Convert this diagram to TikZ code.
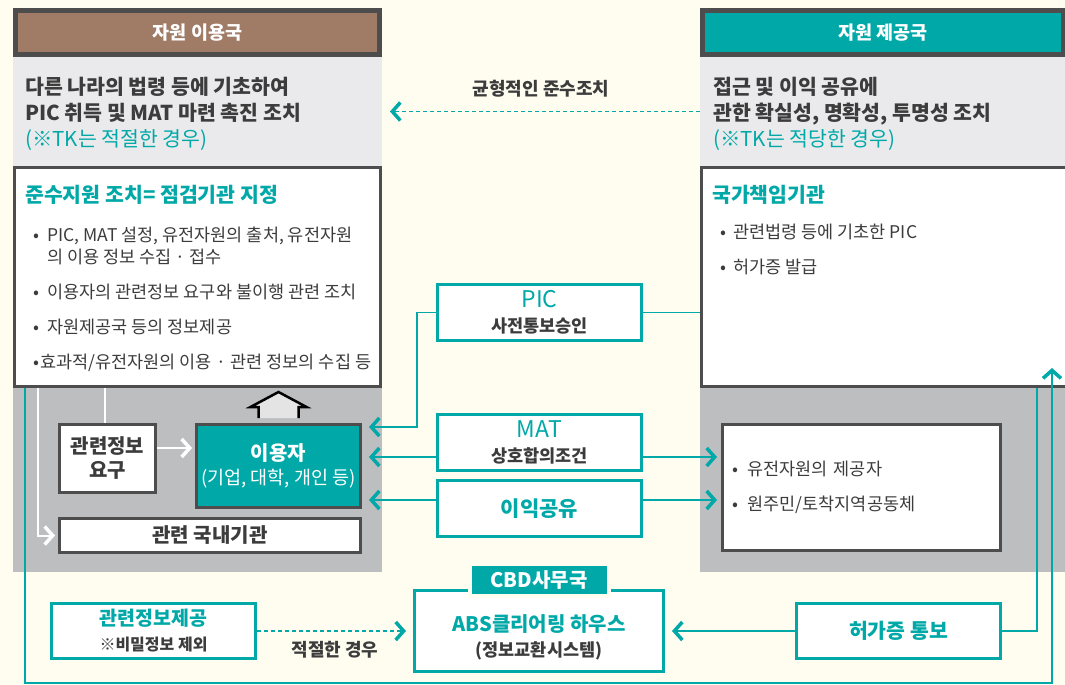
\documentclass[tikz,border=0pt]{standalone}
\usepackage{fontspec}
\setmainfont{Noto Sans CJK KR}
\definecolor{AbsCream}{HTML}{FFFCF0}
\definecolor{AbsBrown}{HTML}{A07B66}
\definecolor{AbsTeal}{HTML}{00A9A8}
\definecolor{AbsFrame}{HTML}{4D4D4D}
\definecolor{AbsLight}{HTML}{EAEAEC}
\definecolor{AbsGray}{HTML}{BDBEC0}
\definecolor{AbsText}{HTML}{3C3C3C}
\definecolor{AbsRoof}{HTML}{E4E4E5}
\usetikzlibrary{arrows.meta,positioning,calc}
\tikzset{
    chev/.tip={Straight Barb[length=8pt,width=18pt,line width=3.5pt]},
    % Background areas
    area light/.style={
        rectangle,
        fill=AbsLight,
        inner sep=0pt,
        outer sep=0pt
    },
    area dark/.style={
        area light,
        fill=AbsGray
    },
    % Country headers
    country/.style={
        rectangle,
        draw=AbsFrame,
        line width=5pt,
        minimum height=44pt,
        inner sep=0pt,
        text=white,
        font=\fontsize{18.5}{20}\selectfont\bfseries
    },
    panel/.style={
        rectangle,
        draw=AbsFrame,
        line width=3pt,
        fill=white,
        minimum height=219pt,
        inner sep=0pt
    },
    plain box/.style={
        rectangle,
        draw=AbsFrame,
        line width=3pt,
        fill=white,
        text=AbsText,
        inner sep=0pt,
        align=center,
        font=\fontsize{20}{24}\selectfont\bfseries
    },
    user box/.style={
        plain box,
        fill=AbsTeal,
        text=white
    },
    teal box/.style={
        plain box,
        draw=AbsTeal,
        minimum width=204pt,
        font=\fontsize{17.5}{25}\selectfont\bfseries
    },
    cbd tab/.style={
        rectangle,
        draw=AbsCream,
        line width=4pt,
        fill=AbsTeal,
        minimum width=139pt,
        minimum height=32pt,
        inner sep=0pt,
        text=white,
        font=\fontsize{20}{22}\selectfont\bfseries
    },
    note/.style={
        align=left,
        inner sep=0pt,
        text=AbsText,
        font=\fontsize{20.5}{26}\selectfont\bfseries
    },
    heading/.style={
        inner sep=0pt,
        anchor=west,
        text=AbsTeal,
        font=\fontsize{20.5}{22}\selectfont\bfseries
    },
    bullets/.style={
        align=left,
        inner sep=0pt,
        anchor=north west,
        text=AbsText,
        font=\fontsize{17.5}{22}\selectfont
    },
    caption/.style={
        inner sep=0pt,
        text=AbsText,
        font=\fontsize{18}{20}\selectfont\bfseries
    },
    link/.style={
        draw=AbsTeal,
        line width=1.6pt
    },
    link arrow/.style={
        link,
        -chev
    },
    link dashed/.style={
        link arrow,
        dash pattern=on 4pt off 3pt
    },
    pale link/.style={
        draw=white,
        line width=2pt
    },
    pale arrow/.style={
        pale link,
        -chev
    }
}
\newcommand{\absbullet}[1]{\makebox[#1][l]{•}}

\begin{document}
\begin{tikzpicture}[x=1pt, y=-1pt]
    \useasboundingbox (0,0) rectangle (1065,685);
    \fill[AbsCream] (0,0) rectangle (1065,685);

    % User country
    \node[area light, minimum width=369pt, minimum height=109pt] (usrlight) at (197.5,111.5) {};
    \node[area dark, minimum width=369pt, minimum height=184pt] (usrbase) at (197.5,480) {};
    \node[country, fill=AbsBrown, minimum width=364pt] (usrhead) at (197.5,32.5) {자원 이용국};
    \node[note, anchor=north west] (usrnote) at (25,77)
        {다른 나라의 법령 등에 기초하여\\PIC 취득 및 MAT 마련 촉진 조치\\{\mdseries\color{AbsTeal}(※TK는 적절한 경우)}};
    \node[panel, minimum width=366pt] (usrbox) at (197.5,277) {};
    \node[heading] (usrtitle) at (25,195) {준수지원 조치= 점검기관 지정};
    \node[bullets] (usrlist) at (33,227)
        {\absbullet{14pt}PIC, MAT 설정, 유전자원의 출처, 유전자원\\
         \hspace*{14pt}의 이용 정보 수집 · 접수\\[13pt]
         \absbullet{14pt}이용자의 관련정보 요구와 불이행 관련 조치\\[13pt]
         \absbullet{14pt}자원제공국 등의 정보제공\\[13pt]
         •\hspace{1pt}효과적/유전자원의 이용\hspace{5pt}· 관련 정보의 수집 등};
    \node[plain box, minimum width=96pt, minimum height=68pt] (reqinfo) at (107.5,458.5) {관련정보\\요구};
    \node[user box, minimum width=164pt, minimum height=83pt] (user) at (278.5,466)
        {이용자\\{\mdseries\fontsize{18.5}{24}\selectfont (기업, 대학, 개인 등)}};
    \node[plain box, minimum width=301pt, minimum height=34pt] (domestic) at (210,535.5) {관련 국내기관};

    % Provider country
    \node[area light, minimum width=365pt, minimum height=109pt] (provlight) at (882.5,111.5) {};
    \node[area dark, minimum width=365pt, minimum height=184pt] (provbase) at (882.5,480) {};
    \node[country, fill=AbsTeal, minimum width=361pt] (provhead) at (883,32.5) {자원 제공국};
    \node[note, anchor=north west] (provnote) at (713,77)
        {접근 및 이익 공유에\\관한 확실성, 명확성, 투명성 조치\\{\mdseries\color{AbsTeal}(※TK는 적당한 경우)}};
    \node[panel, minimum width=365pt] (provbox) at (884,277) {};
    \node[heading] (provtitle) at (712,195) {국가책임기관};
    \node[bullets] (provlist) at (720,224)
        {\absbullet{13pt}관련법령 등에 기초한 PIC\\[13pt]\absbullet{13pt}허가증 발급};
    \node[plain box, minimum width=278pt, minimum height=126pt, text width=258pt, align=left,
          font=\fontsize{17.5}{35}\selectfont] (provider) at (861.5,487.5)
        {\absbullet{15pt}유전자원의 제공자\\\absbullet{15pt}원주민/토착지역공동체};

    % Exchange between both sides
    \node[teal box, minimum height=56pt] (pic) at (539.5,312.5)
        {{\mdseries\color{AbsTeal}\fontsize{23}{25}\selectfont PIC}\\사전통보승인};
    \node[teal box, minimum height=56pt, below=71pt of pic] (mat)
        {{\mdseries\color{AbsTeal}\fontsize{23}{25}\selectfont MAT}\\상호합의조건};
    \node[teal box, minimum height=56pt, below=7pt of mat, text=AbsTeal,
          font=\fontsize{21}{24}\selectfont\bfseries] (share) {이익공유};

    % Clearing house row
    \node[teal box, minimum height=55pt, font=\fontsize{16}{25}\selectfont\bfseries] (infoprov) at (153.5,631)
        {{\color{AbsTeal}\fontsize{19.5}{25}\selectfont 관련정보제공}\\※비밀정보 제외};
    \node[teal box, minimum width=249pt, minimum height=81pt] (abs) at (539,631) {};
    \node[inner sep=0pt, align=center, text=AbsText, font=\fontsize{17.5}{25}\selectfont\bfseries]
        (abstext) at ([yshift=-6.5pt]abs.center)
        {{\color{AbsTeal}\fontsize{20}{25}\selectfont ABS클리어링 하우스}\\(정보교환시스템)};
    \node[cbd tab] (cbd) at ([yshift=9pt]abs.north) {CBD사무국};
    \node[teal box, minimum height=55pt, text=AbsTeal, font=\fontsize{20.5}{24}\selectfont\bfseries]
        (permit) at (898.5,631) {허가증 통보};

    % Connectors
    \draw[link dashed, shorten >=8pt] (provlight.west) -- (usrlight.east)
        node[caption, midway, above=13pt] (balance) {균형적인 준수조치};
    \draw[link arrow, shorten >=7pt] (pic.west) -- ++(-19,0) |- ([yshift=-4pt]user.north east);
    \draw[link] (pic.east) -- (pic.east -| provbox.west);
    \draw[link arrow, shorten >=7pt] ([yshift=-14.5pt]mat.west) -- ([yshift=-14.5pt]mat.west -| user.east);
    \draw[link arrow, shorten >=4pt] ([yshift=-14.5pt]mat.east) -- ([yshift=-14.5pt]mat.east -| provider.west);
    \draw[link arrow, shorten >=7pt] ([yshift=8.5pt]share.west) -- ([yshift=8.5pt]share.west -| user.east);
    \draw[link arrow, shorten >=4pt] ([yshift=8.5pt]share.east) -- ([yshift=8.5pt]share.east -| provider.west);

    \draw[pale arrow, shorten >=3pt] ([xshift=25pt]usrbox.south west) |- (domestic.west);
    \draw[pale link] ([xshift=92pt]usrbox.south west) -- ([xshift=92pt]usrbox.south west |- reqinfo.north);
    \draw[pale arrow, shorten >=3pt] ([yshift=10.5pt]reqinfo.east) -- ([yshift=10.5pt]reqinfo.east -| user.west);
    \filldraw[fill=AbsRoof, draw=black, line width=2.5pt]
        ([shift={(-20,-5)}]user.north) -- ([shift={(-20,-16)}]user.north) -- ([shift={(-28,-16)}]user.north)
        -- ([shift={(0,-31)}]user.north) -- ([shift={(28,-16)}]user.north) -- ([shift={(20,-16)}]user.north)
        -- ([shift={(20,-5)}]user.north);

    \draw[link arrow] ([xshift=12pt]usrbox.south west) -- ++(0,295) -| ([xshift=168pt,yshift=20pt]provbox.south);
    \draw[link] (permit.east) -| ([xshift=153pt]provbox.south);
    \draw[link arrow, shorten >=7pt] (permit.west) -- (abs.east);
    \draw[link dashed, shorten >=7pt] (infoprov.east) -- (infoprov.east -| abs.west)
        node[caption, midway, below=9pt] (whenfit) {적절한 경우};
\end{tikzpicture}
\end{document}
